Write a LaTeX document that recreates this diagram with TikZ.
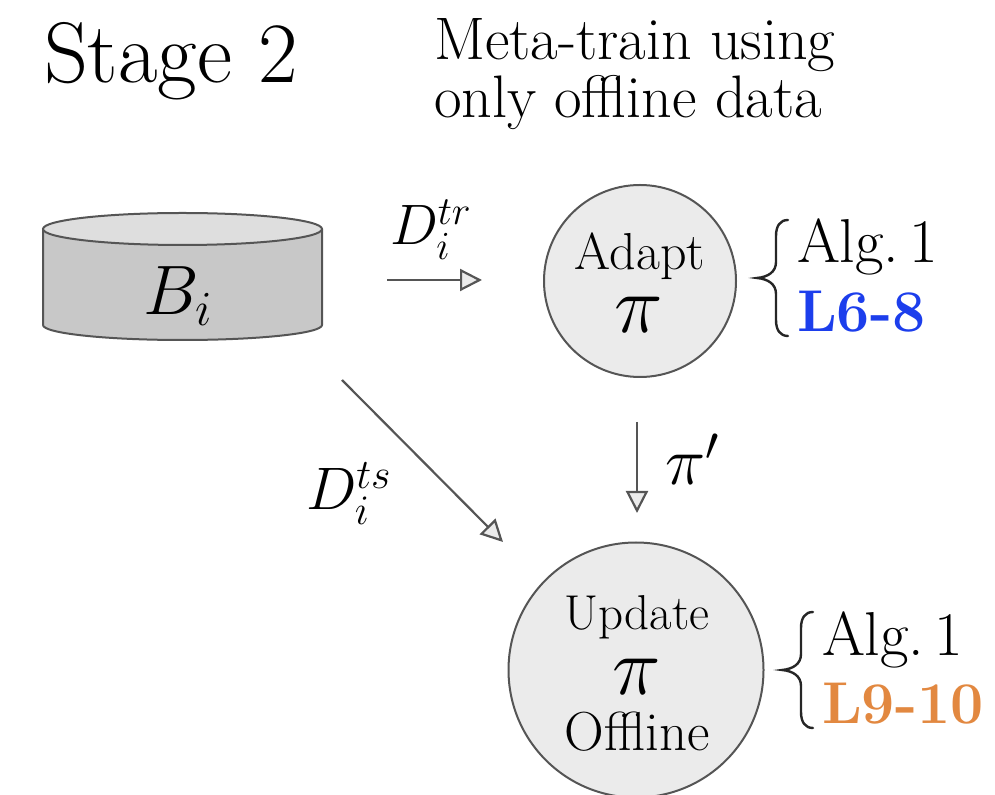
\RequirePackage{fix-cm}
\documentclass[tikz,border=0pt]{standalone}
\usetikzlibrary{arrows.meta}
\definecolor{strk}{RGB}{85,85,85}
\definecolor{cylside}{RGB}{200,200,200}
\definecolor{cyltop}{RGB}{222,222,222}
\definecolor{circfill}{RGB}{235,235,235}
\definecolor{lblue}{RGB}{28,62,236}
\definecolor{lorange}{RGB}{226,136,64}
\tikzset{
  txt/.style={inner sep=0pt, outer sep=0pt},
  outline/.style={draw=strk, line width=1pt},
  stepcircle/.style={circle, outline, fill=circfill, inner sep=0pt},
  arr/.style={draw=strk, line width=1.1pt, -{Triangle[length=11pt, width=11pt, fill=white!92!black]}},
  bracestyle/.style={draw=black!85, line width=1.2pt, line cap=round},
  pics/mybrace/.style={code={
    \draw[bracestyle] (31,-58) .. controls (23,-58) and (19,-52) .. (19,-42) -- (19,-16)
      .. controls (19,-6) and (11,-1) .. (0,0)
      .. controls (11,1) and (19,6) .. (19,16) -- (19,42)
      .. controls (19,52) and (23,58) .. (31,58);
  }},
  bigfont/.style={font=\fontsize{43}{50}\selectfont},
  metafont/.style={font=\fontsize{30}{32}\selectfont},
  algfont/.style={font=\fontsize{31}{33}\selectfont},
  linefont/.style={font=\fontsize{29.5}{32}\selectfont},
  dfont/.style={font=\fontsize{28.5}{30}\selectfont},
  circfont/.style={font=\fontsize{26}{28}\selectfont},
  pifont/.style={font=\fontsize{41}{44}\selectfont},
}
\begin{document}
\begin{tikzpicture}[x=0.5pt, y=-0.5pt]
\useasboundingbox (0,0) rectangle (995,795);

% titles
\node[txt, bigfont, anchor=base west] (stage) at (44,83) {Stage 2};
\node[txt, metafont, anchor=base west] (meta1) at (434,60) {Meta-train using};
\node[txt, metafont, anchor=base west] (meta2) at (434,118) {only offline data};

% cylinder
\fill[cylside] (43,229) -- (43,325) arc[start angle=180, end angle=360, x radius=69.75pt, y radius=7.5pt] -- (322,229) -- cycle;
\draw[outline] (43,229) -- (43,325) arc[start angle=180, end angle=360, x radius=69.75pt, y radius=7.5pt] -- (322,229);
\draw[outline, fill=cyltop] (182.5,229) ellipse[x radius=69.75pt, y radius=8pt];
\node[txt, minimum width=139.5pt, minimum height=56pt] (cyl) at (182.5,277) {};
\node[txt, font=\fontsize{35}{40}\selectfont, anchor=base west] (bi) at (143,315) {$B_i$};

% circles
\node[stepcircle, minimum size=96pt] (adapt) at (640,281) {};
\node[txt, circfont, anchor=base] (adaptT) at (640,270) {Adapt};
\node[txt, pifont] (adaptPi) at (639,315) {$\pi$};

\node[stepcircle, minimum size=127.5pt] (update) at (636,670) {};
\node[txt, font=\fontsize{24.5}{28}\selectfont, anchor=base] (updT) at (637,630) {Update};
\node[txt, pifont] (updPi) at (637,677) {$\pi$};
\node[txt, font=\fontsize{27.5}{30}\selectfont, anchor=base] (updO) at (637,750) {Offline};

% connectors
\coordinate (trS) at (387,280);
\coordinate (trE) at (482,280);
\coordinate (tsS) at (342,380);
\coordinate (tsE) at (503,542);
\coordinate (ppS) at (637,422);
\coordinate (ppE) at (637,513);
\draw[arr] (trS) -- (trE);
\draw[arr] (tsS) -- (tsE);
\draw[arr] (ppS) -- (ppE);

\node[txt, dfont, anchor=base west] (dtr) at (390,245) {$D_i^{tr}$};
\node[txt, font=\fontsize{30}{32}\selectfont, anchor=base west] (dts) at (306,510) {$D_i^{ts}$};
\node[txt, font=\fontsize{34}{36}\selectfont, anchor=base west] (pip) at (665,485) {$\pi'$};

% braces and algorithm references
\pic at (757,278) {mybrace};
\node[txt, algfont, anchor=base west] (alg1) at (797,263) {Alg.\,1};
\node[txt, linefont, anchor=base west, text=lblue] (l68) at (797,332) {\bfseries L6-8};

\pic at (782,670) {mybrace};
\node[txt, algfont, anchor=base west] (alg2) at (822,655) {Alg.\,1};
\node[txt, linefont, anchor=base west, text=lorange] (l910) at (822,723) {\bfseries L9-10};
\end{tikzpicture}
\end{document}
